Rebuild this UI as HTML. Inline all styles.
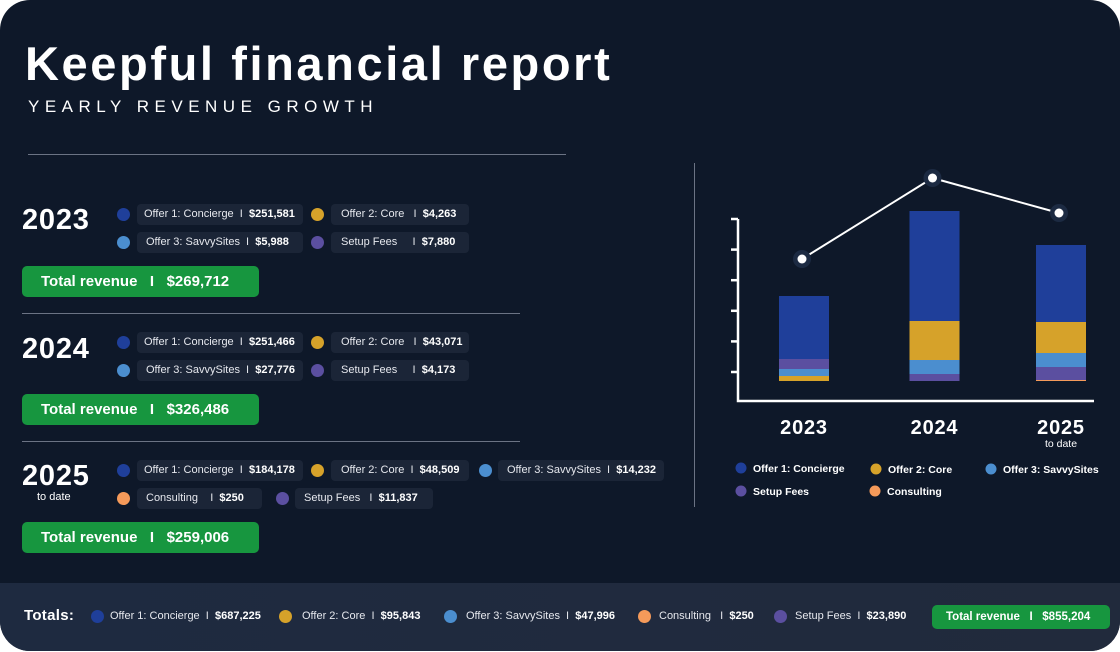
<!DOCTYPE html>
<html><head><meta charset="utf-8">
<style>
*{box-sizing:border-box;margin:0;padding:0}
body{width:1120px;height:652px;background:#fff;font-family:"Liberation Sans",sans-serif;overflow:hidden;position:relative}
#card{position:absolute;left:0;top:0;width:1120px;height:651px;background:#0e1829;border-radius:30px;overflow:hidden}
.abs{position:absolute}
.title{left:25px;top:36px;font-size:47px;font-weight:bold;color:#fff;letter-spacing:2.6px}
.sub{left:28px;top:97px;font-size:17px;color:#fff;letter-spacing:5.5px}
.hr{height:1px;background:#6b7384}
.year{font-size:29px;font-weight:bold;color:#fff;letter-spacing:0.8px}
.todate{font-size:11px;color:#fff}
.dot{width:13px;height:13px;border-radius:50%}
.pill{height:21px;background:#1b2537;border-radius:4px;color:#e6e8ee;font-size:11px;line-height:21px;white-space:nowrap;padding-left:7px}
.pill b{font-weight:bold;color:#fff}
.green{background:#17963f;border-radius:5px;color:#fff;font-weight:bold;font-size:15px;line-height:31px;height:31px;white-space:nowrap}
.c1{background:#1f3f9a}.c2{background:#d6a22a}.c3{background:#4b8ecf}.c4{background:#5b4fa0}.c5{background:#f59a5a}
#band{left:0;top:583px;width:1120px;height:70px;background:linear-gradient(90deg,#1e2a40,#212a3c)}
.bt{font-size:11px;color:#e6e8ee;white-space:nowrap;top:610px}
.bt b{color:#fff}
</style></head><body>
<div id="card">
<div class="abs title">Keepful financial report</div>
<div class="abs sub">YEARLY REVENUE GROWTH</div>
<div class="abs hr" style="left:28px;top:154px;width:538px"></div>

<!-- 2023 -->
<div class="abs year" style="left:22px;top:204px">2023</div>
<div class="abs dot c1" style="left:117px;top:208px"></div>
<div class="abs pill" style="left:137px;top:204px;width:166px">Offer 1: Concierge &nbsp;I&nbsp; <b>$251,581</b></div>
<div class="abs dot c2" style="left:311px;top:208px"></div>
<div class="abs pill" style="left:331px;top:204px;width:138px;padding-left:10px">Offer 2: Core &nbsp;&nbsp;I&nbsp; <b>$4,263</b></div>
<div class="abs dot c3" style="left:117px;top:236px"></div>
<div class="abs pill" style="left:137px;top:232px;width:166px;padding-left:9px">Offer 3: SavvySites &nbsp;I&nbsp; <b>$5,988</b></div>
<div class="abs dot c4" style="left:311px;top:236px"></div>
<div class="abs pill" style="left:331px;top:232px;width:138px;padding-left:10px">Setup Fees &nbsp;&nbsp;&nbsp;&nbsp;I&nbsp; <b>$7,880</b></div>
<div class="abs green" style="left:22px;top:266px;width:237px;padding-left:19px">Total revenue &nbsp;&nbsp;I&nbsp;&nbsp; $269,712</div>
<div class="abs hr" style="left:22px;top:313px;width:498px"></div>

<!-- 2024 -->
<div class="abs year" style="left:22px;top:333px">2024</div>
<div class="abs dot c1" style="left:117px;top:336px"></div>
<div class="abs pill" style="left:137px;top:332px;width:166px">Offer 1: Concierge &nbsp;I&nbsp; <b>$251,466</b></div>
<div class="abs dot c2" style="left:311px;top:336px"></div>
<div class="abs pill" style="left:331px;top:332px;width:138px;padding-left:10px">Offer 2: Core &nbsp;&nbsp;I&nbsp; <b>$43,071</b></div>
<div class="abs dot c3" style="left:117px;top:364px"></div>
<div class="abs pill" style="left:137px;top:360px;width:166px;padding-left:9px">Offer 3: SavvySites &nbsp;I&nbsp; <b>$27,776</b></div>
<div class="abs dot c4" style="left:311px;top:364px"></div>
<div class="abs pill" style="left:331px;top:360px;width:138px;padding-left:10px">Setup Fees &nbsp;&nbsp;&nbsp;&nbsp;I&nbsp; <b>$4,173</b></div>
<div class="abs green" style="left:22px;top:394px;width:237px;padding-left:19px">Total revenue &nbsp;&nbsp;I&nbsp;&nbsp; $326,486</div>
<div class="abs hr" style="left:22px;top:441px;width:498px"></div>

<!-- 2025 -->
<div class="abs year" style="left:22px;top:460px">2025</div>
<div class="abs todate" style="left:37px;top:491px">to date</div>
<div class="abs dot c1" style="left:117px;top:464px"></div>
<div class="abs pill" style="left:137px;top:460px;width:166px">Offer 1: Concierge &nbsp;I&nbsp; <b>$184,178</b></div>
<div class="abs dot c2" style="left:311px;top:464px"></div>
<div class="abs pill" style="left:331px;top:460px;width:138px;padding-left:10px">Offer 2: Core &nbsp;I&nbsp; <b>$48,509</b></div>
<div class="abs dot c3" style="left:479px;top:464px"></div>
<div class="abs pill" style="left:498px;top:460px;width:166px;padding-left:9px">Offer 3: SavvySites &nbsp;I&nbsp; <b>$14,232</b></div>
<div class="abs dot c5" style="left:117px;top:492px"></div>
<div class="abs pill" style="left:137px;top:488px;width:125px;padding-left:9px">Consulting &nbsp;&nbsp;&nbsp;I&nbsp; <b>$250</b></div>
<div class="abs dot c4" style="left:276px;top:492px"></div>
<div class="abs pill" style="left:295px;top:488px;width:138px;padding-left:9px">Setup Fees &nbsp;&nbsp;I&nbsp; <b>$11,837</b></div>
<div class="abs green" style="left:22px;top:522px;width:237px;padding-left:19px">Total revenue &nbsp;&nbsp;I&nbsp;&nbsp; $259,006</div>

<div class="abs" style="left:694px;top:163px;width:1px;height:344px;background:#6b7384"></div>

<svg class="abs" id="chart" style="left:700px;top:160px" width="420" height="350"></svg>

<div class="abs" id="band"></div>
<div class="abs" style="left:24px;top:607px;font-size:15px;font-weight:bold;color:#fff;letter-spacing:0.3px">Totals:</div>
<div class="abs dot c1" style="left:91px;top:610px"></div>
<div class="abs bt" style="left:110px">Offer 1: Concierge &nbsp;I&nbsp; <b>$687,225</b></div>
<div class="abs dot c2" style="left:279px;top:610px"></div>
<div class="abs bt" style="left:302px">Offer 2: Core &nbsp;I&nbsp; <b>$95,843</b></div>
<div class="abs dot c3" style="left:444px;top:610px"></div>
<div class="abs bt" style="left:466px">Offer 3: SavvySites &nbsp;I&nbsp; <b>$47,996</b></div>
<div class="abs dot c5" style="left:638px;top:610px"></div>
<div class="abs bt" style="left:659px">Consulting &nbsp;&nbsp;I&nbsp; <b>$250</b></div>
<div class="abs dot c4" style="left:774px;top:610px"></div>
<div class="abs bt" style="left:795px">Setup Fees &nbsp;I&nbsp; <b>$23,890</b></div>
<div class="abs green" style="left:932px;top:605px;width:178px;height:24px;line-height:24px;font-size:11.5px;padding-left:14px">Total revenue &nbsp;&nbsp;I&nbsp;&nbsp; $855,204</div>
</div>

<script>
// Visual segment heights (chart units as drawn), stacked bottom->top per year
const years = ["2023","2024","2025"];
const concierge = [63,110,77];
const core = [5,39,31];
const savvy = [7,14,14];
const setup = [10,7,13];
const consulting = [0,0,1];
const stackOrder = [
  [["core",core],["savvy",savvy],["setup",setup],["concierge",concierge]],
  [["setup",setup],["savvy",savvy],["core",core],["concierge",concierge]],
  [["consulting",consulting],["setup",setup],["savvy",savvy],["core",core],["concierge",concierge]]
];
const lineValues = [122,203,168];
const colors = {concierge:"#1f3f9a",core:"#d6a22a",savvy:"#4b8ecf",setup:"#5b4fa0",consulting:"#f59a5a"};

const NS="http://www.w3.org/2000/svg";
const svg=document.getElementById('chart');
const base=221;
const yS=v=>base-v;
const xC=i=>104+i*128.5+(i===1?2:0);
const barW=50;
function mk(t,a){const e=document.createElementNS(NS,t);for(const k in a)e.setAttribute(k,a[k]);svg.appendChild(e);return e;}
let ax=mk('path',{d:"M38 59 V241 H394",fill:"none",stroke:"#fff","stroke-width":2.5});


for(let t=0;t<6;t++){const y=59+t*30.6;const tk=mk('line',{x1:31,x2:38,y1:y,y2:y,stroke:"#fff","stroke-width":2.5});

}
years.forEach((yr,i)=>{
  let acc=0;
  stackOrder[i].forEach(([name,arr])=>{
    const v=arr[i]; if(v<=0)return;
    const r=mk('rect',{x:xC(i)-barW/2,y:yS(acc+v),width:barW,height:v,fill:colors[name]});
    
    
    acc+=v;
  });
  const lb=mk('text',{x:xC(i),y:274,"text-anchor":"middle",fill:"#fff","font-size":20,"font-weight":"bold","letter-spacing":"0.8","font-family":"Liberation Sans, sans-serif"});
  lb.textContent=yr;
  
  
});
const td=mk('text',{x:xC(2),y:287,"text-anchor":"middle",fill:"#fff","font-size":10.5,"font-family":"Liberation Sans, sans-serif"});
td.textContent="to date";


const pts=lineValues.map((v,i)=>[xC(i)-2,yS(v)]);
const ln=mk('polyline',{points:pts.map(p=>p.join(',')).join(' '),fill:"none",stroke:"#fff","stroke-width":2});


pts.forEach((p,i)=>{
  const h=mk('circle',{cx:p[0],cy:p[1],r:9,fill:"#1c2a42"});
  
  
  const c=mk('circle',{cx:p[0],cy:p[1],r:4.5,fill:"#fff"});
  
  
});
const leg=[["Offer 1: Concierge","concierge",41,312],["Offer 2: Core","core",176,313],["Offer 3: SavvySites","savvy",291,313],["Setup Fees","setup",41,335],["Consulting","consulting",175,335]];
leg.forEach(([t,k,x,y])=>{
  const d=mk('circle',{cx:x,cy:y-4,r:5.5,fill:colors[k]});
  
  
  const tx=mk('text',{x:x+12,y:y,fill:"#fff","font-size":10.5,"font-weight":"bold","font-family":"Liberation Sans, sans-serif"});
  tx.textContent=t;
  
  
});
</script>
</body></html>
